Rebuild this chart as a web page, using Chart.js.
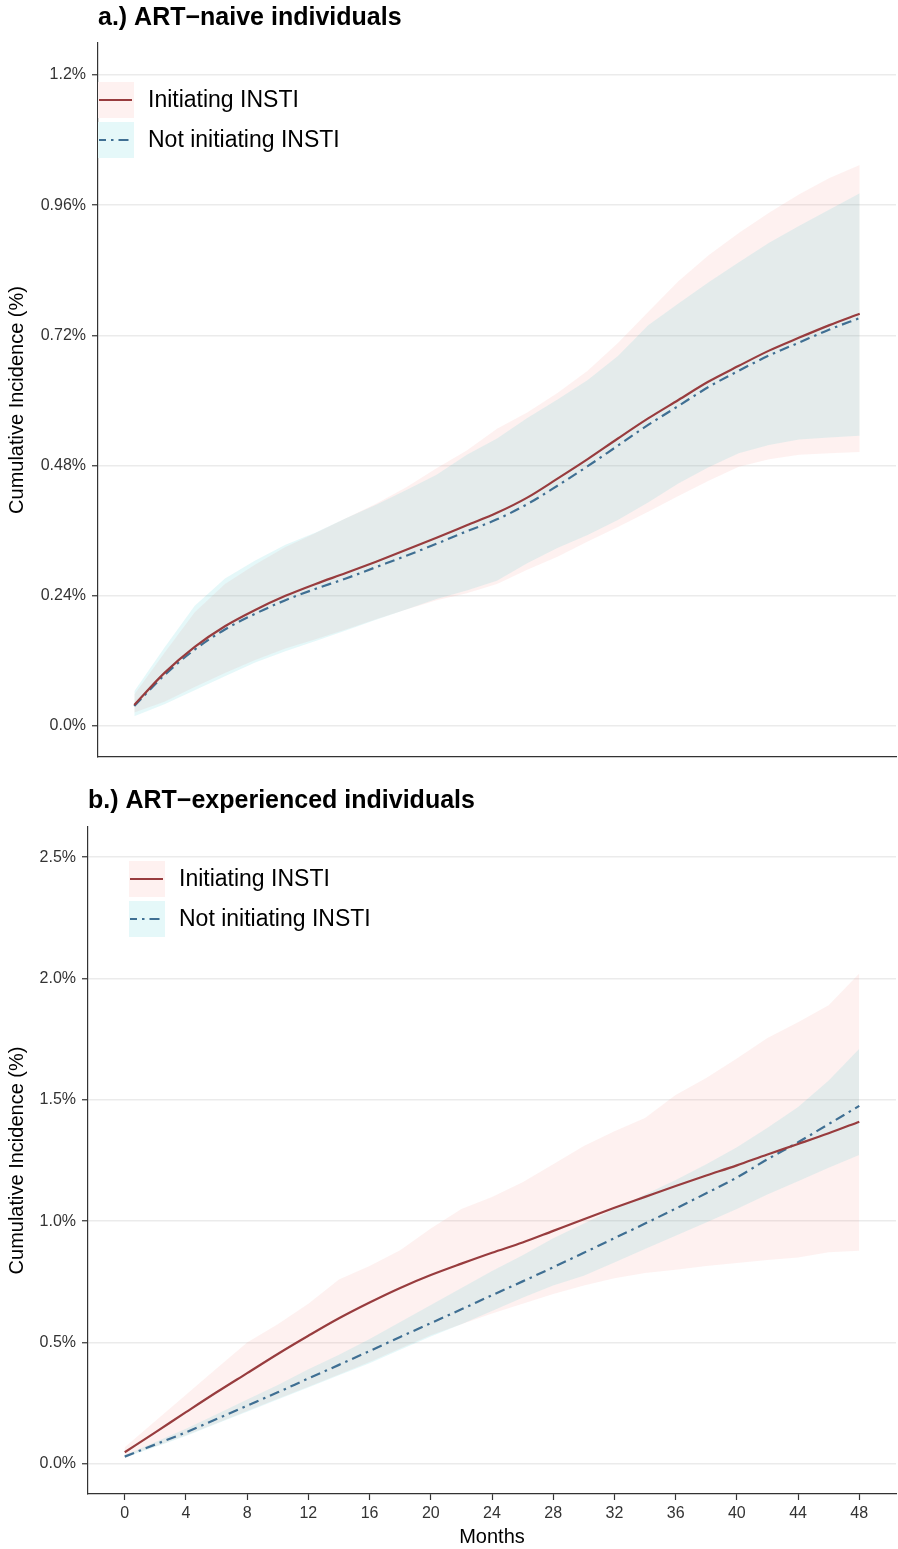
<!DOCTYPE html>
<html>
<head>
<meta charset="utf-8">
<script src="https://cdn.jsdelivr.net/npm/chart.js@4.4.1/dist/chart.umd.min.js"></script>
<style>
  html, body { margin: 0; padding: 0; background: #fff; }
  .panel { position: absolute; left: 0; }
  #panelA { top: 0; }
  #panelB { top: 770px; }
</style>
</head>
<body>
<div class="panel" id="panelA"><canvas id="chartA" width="898" height="770"></canvas></div>
<div class="panel" id="panelB"><canvas id="chartB" width="898" height="779"></canvas></div>
<script>
// months of follow-up
const months = [0, 2, 4, 6, 8, 10, 12, 14, 16, 18, 20, 22, 24, 26, 28, 30, 32, 34, 36, 38, 40, 42, 44, 46, 48];
const monthTicks = [0, 4, 8, 12, 16, 20, 24, 28, 32, 36, 40, 44, 48];

// a.) ART-naive, cumulative incidence in %
const naiveInstiEst   = [0.039, 0.098, 0.146, 0.184, 0.214, 0.240, 0.262, 0.282, 0.303, 0.325, 0.347, 0.370, 0.393, 0.421, 0.456, 0.492, 0.530, 0.567, 0.601, 0.635, 0.664, 0.692, 0.716, 0.739, 0.760];
const naiveInstiUpper = [0.058, 0.135, 0.210, 0.262, 0.298, 0.330, 0.356, 0.383, 0.410, 0.440, 0.475, 0.508, 0.548, 0.578, 0.614, 0.655, 0.706, 0.763, 0.820, 0.868, 0.909, 0.946, 0.980, 1.010, 1.034];
const naiveInstiLower = [0.025, 0.045, 0.072, 0.098, 0.122, 0.143, 0.160, 0.178, 0.197, 0.215, 0.232, 0.245, 0.262, 0.288, 0.312, 0.340, 0.367, 0.395, 0.424, 0.452, 0.478, 0.492, 0.500, 0.503, 0.505];
const naiveNoEst      = [0.037, 0.094, 0.141, 0.178, 0.207, 0.232, 0.253, 0.272, 0.293, 0.314, 0.336, 0.359, 0.381, 0.409, 0.443, 0.479, 0.517, 0.555, 0.590, 0.625, 0.655, 0.683, 0.707, 0.731, 0.752];
const naiveNoUpper    = [0.064, 0.145, 0.222, 0.272, 0.305, 0.334, 0.357, 0.383, 0.408, 0.435, 0.463, 0.500, 0.530, 0.568, 0.602, 0.638, 0.682, 0.739, 0.779, 0.818, 0.855, 0.891, 0.922, 0.952, 0.982];
const naiveNoLower    = [0.018, 0.040, 0.066, 0.092, 0.117, 0.138, 0.157, 0.176, 0.196, 0.215, 0.234, 0.250, 0.268, 0.300, 0.328, 0.352, 0.380, 0.412, 0.447, 0.477, 0.503, 0.518, 0.528, 0.532, 0.535];
const naiveTicks  = [0, 0.24, 0.48, 0.72, 0.96, 1.2];
const naiveLabels = ['0.0%', '0.24%', '0.48%', '0.72%', '0.96%', '1.2%'];

// b.) ART-experienced
const expInstiEst   = [0.048, 0.130, 0.213, 0.295, 0.374, 0.453, 0.528, 0.600, 0.665, 0.725, 0.778, 0.825, 0.870, 0.912, 0.960, 1.008, 1.055, 1.100, 1.145, 1.188, 1.230, 1.275, 1.318, 1.362, 1.410];
const expInstiUpper = [0.069, 0.177, 0.285, 0.393, 0.500, 0.575, 0.660, 0.760, 0.815, 0.880, 0.970, 1.050, 1.100, 1.160, 1.235, 1.310, 1.370, 1.425, 1.520, 1.590, 1.670, 1.755, 1.820, 1.890, 2.020];
const expInstiLower = [0.032, 0.072, 0.118, 0.168, 0.218, 0.268, 0.318, 0.368, 0.420, 0.475, 0.530, 0.575, 0.620, 0.660, 0.700, 0.735, 0.765, 0.786, 0.800, 0.815, 0.828, 0.840, 0.850, 0.872, 0.878];
const expNoEst      = [0.030, 0.080, 0.130, 0.185, 0.240, 0.295, 0.352, 0.408, 0.465, 0.523, 0.580, 0.637, 0.695, 0.752, 0.810, 0.870, 0.930, 0.990, 1.052, 1.115, 1.180, 1.255, 1.325, 1.400, 1.475];
const expNoUpper    = [0.036, 0.090, 0.145, 0.205, 0.265, 0.325, 0.390, 0.450, 0.515, 0.585, 0.655, 0.725, 0.795, 0.860, 0.930, 0.990, 1.050, 1.110, 1.170, 1.235, 1.305, 1.385, 1.470, 1.580, 1.710];
const expNoLower    = [0.026, 0.070, 0.115, 0.165, 0.215, 0.265, 0.315, 0.365, 0.415, 0.470, 0.525, 0.575, 0.630, 0.685, 0.735, 0.775, 0.830, 0.885, 0.940, 0.995, 1.050, 1.110, 1.165, 1.220, 1.273];
const expTicks  = [0, 0.5, 1.0, 1.5, 2.0, 2.5];
const expLabels = ['0.0%', '0.5%', '1.0%', '1.5%', '2.0%', '2.5%'];

const seriesNames = ['Initiating INSTI', 'Not initiating INSTI'];

const RED = '#983c3e';
const BLUE = '#3f6f93';
const PINK_FILL = 'rgba(248,118,109,0.1)';
const CYAN_FILL = 'rgba(0,191,196,0.1)';
const FONT = '"Liberation Sans", Arial, Helvetica, sans-serif';

Chart.defaults.font.family = FONT;

const pts = arr => months.map((m, i) => ({ x: m, y: arr[i] }));

// titles and ggplot-like legend keys
const panelDecor = {
    id: 'panelDecor',
    afterDraw(chart, args, opts) {
        const ctx = chart.ctx;
        ctx.save();
        ctx.fillStyle = '#000';
        ctx.font = 'bold 25px ' + FONT;
        ctx.textBaseline = 'alphabetic';
        ctx.fillText(opts.title, opts.titleX, opts.titleY);

        const keyed = chart.data.datasets.filter(d => d.keyFill);
        keyed.forEach((d, i) => {
            const kx = opts.legendX;
            const ky = opts.legendY + i * 40;
            ctx.fillStyle = '#fff';
            ctx.fillRect(kx, ky, 36, 36);
            ctx.fillStyle = d.keyFill;
            ctx.fillRect(kx, ky, 36, 36);
            ctx.strokeStyle = d.borderColor;
            ctx.lineWidth = d.borderWidth;
            ctx.setLineDash(d.borderDash || []);
            ctx.lineDashOffset = d.borderDash ? 3 : 0;
            ctx.beginPath();
            ctx.moveTo(kx + 1, ky + 18);
            ctx.lineTo(kx + 34, ky + 18);
            ctx.stroke();
            ctx.setLineDash([]);
            ctx.fillStyle = '#000';
            ctx.font = '23px ' + FONT;
            ctx.textBaseline = 'middle';
            ctx.fillText(d.label, opts.legendX + 50, ky + 19);
        });
        ctx.restore();
    }
};

function makePanel(id, cfg) {
    const datasets = [
        { label: seriesNames[0], data: pts(cfg.instiEst), borderColor: RED, borderWidth: 2.2,
          cubicInterpolationMode: 'monotone', pointRadius: 0, fill: false, keyFill: PINK_FILL },
        { label: seriesNames[1], data: pts(cfg.noEst), borderColor: BLUE, borderWidth: 2.2, borderDash: [10, 5, 2.5, 5],
          cubicInterpolationMode: 'monotone', pointRadius: 0, fill: false, keyFill: CYAN_FILL },
        { label: 'no upper', data: pts(cfg.noUpper), borderWidth: 0, pointRadius: 0, fill: '+1', backgroundColor: CYAN_FILL },
        { label: 'no lower', data: pts(cfg.noLower), borderWidth: 0, pointRadius: 0, fill: false },
        { label: 'insti upper', data: pts(cfg.instiUpper), borderWidth: 0, pointRadius: 0, fill: '+1', backgroundColor: PINK_FILL },
        { label: 'insti lower', data: pts(cfg.instiLower), borderWidth: 0, pointRadius: 0, fill: false }
    ];

    return new Chart(document.getElementById(id), {
        type: 'line',
        data: { datasets: datasets },
        plugins: [panelDecor],
        options: {
            responsive: false,
            animation: false,
            layout: { padding: { top: cfg.padTop, bottom: cfg.padBottom, left: 0, right: 2 } },
            scales: {
                x: {
                    type: 'linear',
                    min: -2.4,
                    max: 50.4,
                    afterBuildTicks: s => { s.ticks = monthTicks.map(v => ({ value: v })); },
                    afterFit: s => { s.height = cfg.xHeight; s.paddingLeft = 0; s.paddingRight = 0; },
                    grid: { display: cfg.showX, drawOnChartArea: false, tickLength: 6, tickColor: '#333', tickWidth: 1.2 },
                    border: { display: true, color: '#333', width: 1.2 },
                    ticks: { display: cfg.showX, color: '#333', font: { size: 16 }, padding: 4, maxRotation: 0 },
                    title: { display: cfg.showX, text: 'Months', color: '#000', font: { size: 20 }, padding: { top: 0, bottom: 0 } }
                },
                y: {
                    type: 'linear',
                    min: cfg.yMin,
                    max: cfg.yMax,
                    afterBuildTicks: s => { s.ticks = cfg.yTicks.map(v => ({ value: v })); },
                    afterFit: s => { s.width = cfg.yWidth; s.paddingTop = 0; s.paddingBottom = 0; },
                    grid: { color: '#ebebeb', lineWidth: 1.5, tickLength: 6, tickColor: '#333', tickWidth: 1.2 },
                    border: { display: true, color: '#333', width: 1.2 },
                    ticks: { color: '#333', font: { size: 16 }, padding: 6, callback: (v, i) => cfg.yLabels[i] },
                    title: { display: true, text: 'Cumulative Incidence (%)', color: '#000', font: { size: 20 }, padding: { top: 5, bottom: 0 } }
                }
            },
            plugins: {
                legend: { display: false },
                tooltip: { enabled: false },
                panelDecor: cfg.decor
            }
        }
    });
}

makePanel('chartA', {
    instiEst: naiveInstiEst, instiUpper: naiveInstiUpper, instiLower: naiveInstiLower,
    noEst: naiveNoEst, noUpper: naiveNoUpper, noLower: naiveNoLower,
    yTicks: naiveTicks, yLabels: naiveLabels, yMin: -0.057, yMax: 1.259,
    padTop: 43, padBottom: 13, xHeight: 0, yWidth: 98, showX: false,
    decor: { title: 'a.) ART\u2212naive individuals', titleX: 98, titleY: 25, legendX: 98, legendY: 82 }
});

makePanel('chartB', {
    instiEst: expInstiEst, instiUpper: expInstiUpper, instiLower: expInstiLower,
    noEst: expNoEst, noUpper: expNoUpper, noLower: expNoLower,
    yTicks: expTicks, yLabels: expLabels, yMin: -0.124, yMax: 2.624,
    padTop: 57, padBottom: 0, xHeight: 55, yWidth: 88, showX: true,
    decor: { title: 'b.) ART\u2212experienced individuals', titleX: 88, titleY: 38, legendX: 129, legendY: 91 }
});
</script>
</body>
</html>
